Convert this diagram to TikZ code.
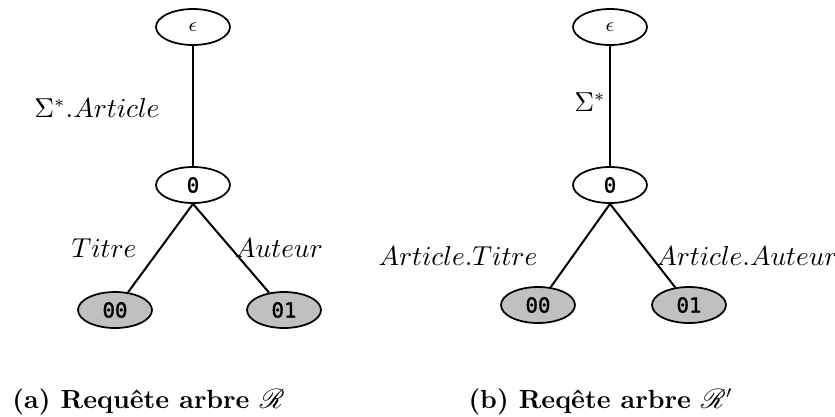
\documentclass[tikz,border=0pt]{standalone}
\usepackage{fontspec}
\usepackage{amsmath}
\usepackage{mathrsfs}
\usetikzlibrary{shapes.geometric}
\newfontfamily\monob{DejaVu Sans Mono}[FakeBold=1.5]
\definecolor{leafgray}{RGB}{192,192,192}
\tikzset{
  tnode/.style={draw, ellipse, line width=0.7pt, minimum width=29.6pt, minimum height=14.4pt, inner sep=0pt, font=\monob\fontsize{8.3}{9}\selectfont},
  leaf/.style={tnode, fill=leafgray},
  edge/.style={line width=0.8pt},
  lbl/.style={inner sep=0pt, font=\fontsize{10.5}{12}\selectfont},
  captxt/.style={inner sep=0pt, anchor=west, font=\bfseries\fontsize{10.5}{12}\selectfont}
}
\newcommand{\epsnode}{\raisebox{-2pt}{\fontsize{8}{9}\selectfont$\epsilon$}}
\begin{document}
\begin{tikzpicture}[x=0.4pt, y=-0.4pt]
\useasboundingbox (0,0) rectangle (835,416);
% left tree
\node[tnode] (le) at (193,27) {\epsnode};
\node[tnode] (lz) at (193,185) {0};
\node[leaf] (la) at (115,310) {00};
\node[leaf] (lb) at (284,310) {01};
\draw[edge] (le.south) -- (lz.north);
\draw[edge] (lz.south) -- (la);
\draw[edge] (lz.south) -- (lb);
\node[lbl] (l1) at (97,108) {$\Sigma^*.Article$};
\node[lbl] (l2) at (104,248) {$Titre$};
\node[lbl] (l3) at (279,248) {$Auteur$};
% right tree
\node[tnode] (re) at (610,27) {\epsnode};
\node[tnode] (rz) at (610,185) {0};
\node[leaf] (ra) at (538,305) {00};
\node[leaf] (rb) at (689,305) {01};
\draw[edge] (re.south) -- (rz.north);
\draw[edge] (rz.south) -- (ra);
\draw[edge] (rz.south) -- (rb);
\node[lbl] (r1) at (590,102) {$\Sigma^*$};
\node[lbl] (r2) at (458,256) {$Article.Titre$};
\node[lbl] (r3) at (747,256) {$Article.Auteur$};
% captions
\node[captxt] (ca) at (12,402) {(a) Requête arbre $\mathscr{R}$};
\node[captxt] (cb) at (468,402) {(b) Reqête arbre $\mathscr{R}'$};
\end{tikzpicture}
\end{document}
